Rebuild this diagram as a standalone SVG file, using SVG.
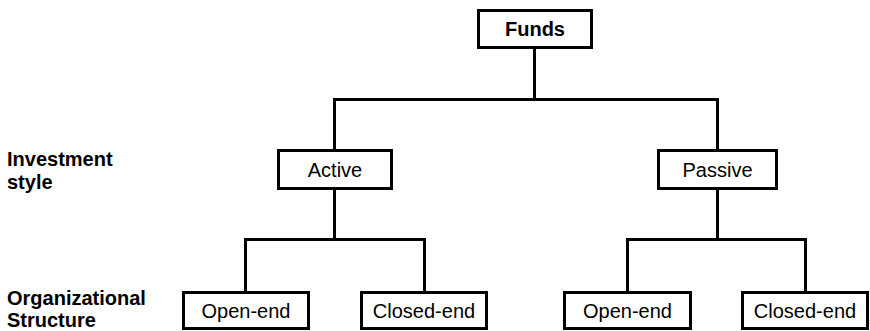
<svg xmlns="http://www.w3.org/2000/svg" width="870" height="331" viewBox="0 0 870 331">
  <style>
    .box { fill: #ffffff; stroke: #000000; stroke-width: 3; }
    .wire { fill: none; stroke: #000000; stroke-width: 3; stroke-linecap: butt; }
    .t { font-family: "Liberation Sans", Arial, sans-serif; font-size: 20px; fill: #000000; text-anchor: middle; }
    .b { font-weight: bold; }
    .lbl { font-family: "Liberation Sans", Arial, sans-serif; font-size: 20px; font-weight: bold; fill: #000000; }
  </style>
  <rect width="870" height="331" fill="#ffffff"/>

  <!-- tree connectors -->
  <g id="connectors">
    <path class="wire" d="M534.5 48 V99.5 M334.5 99.5 H717.5 M334.5 98 V150 M717.5 98 V150"/>
    <path class="wire" d="M334.5 189 V239.5 M245.5 239.5 H425.5 M245.5 238 V292 M424.5 238 V292"/>
    <path class="wire" d="M717.5 189 V239.5 M627.5 239.5 H806.5 M627.5 238 V292 M805.5 238 V292"/>
  </g>

  <g id="funds">
    <rect class="box" x="478.5" y="10.5" width="113" height="37"/>
    <text class="t b" x="535" y="36">Funds</text>
  </g>
  <g id="active">
    <rect class="box" x="278.5" y="150.5" width="113" height="38"/>
    <text class="t" x="335" y="177">Active</text>
  </g>
  <g id="passive">
    <rect class="box" x="658.5" y="150.5" width="118" height="38"/>
    <text class="t" x="717.5" y="177">Passive</text>
  </g>
  <g id="active-open-end">
    <rect class="box" x="183.5" y="292.5" width="125" height="36"/>
    <text class="t" x="246" y="318">Open-end</text>
  </g>
  <g id="active-closed-end">
    <rect class="box" x="361.5" y="292.5" width="125" height="36"/>
    <text class="t" x="424" y="318">Closed-end</text>
  </g>
  <g id="passive-open-end">
    <rect class="box" x="564.5" y="292.5" width="126" height="36"/>
    <text class="t" x="627.5" y="318">Open-end</text>
  </g>
  <g id="passive-closed-end">
    <rect class="box" x="742.5" y="292.5" width="125" height="36"/>
    <text class="t" x="805" y="318">Closed-end</text>
  </g>

  <!-- level captions -->
  <g id="level-labels">
    <text class="lbl" x="7" y="166">Investment</text>
    <text class="lbl" x="7" y="189">style</text>
    <text class="lbl" x="7" y="305">Organizational</text>
    <text class="lbl" x="7" y="327">Structure</text>
  </g>
</svg>
